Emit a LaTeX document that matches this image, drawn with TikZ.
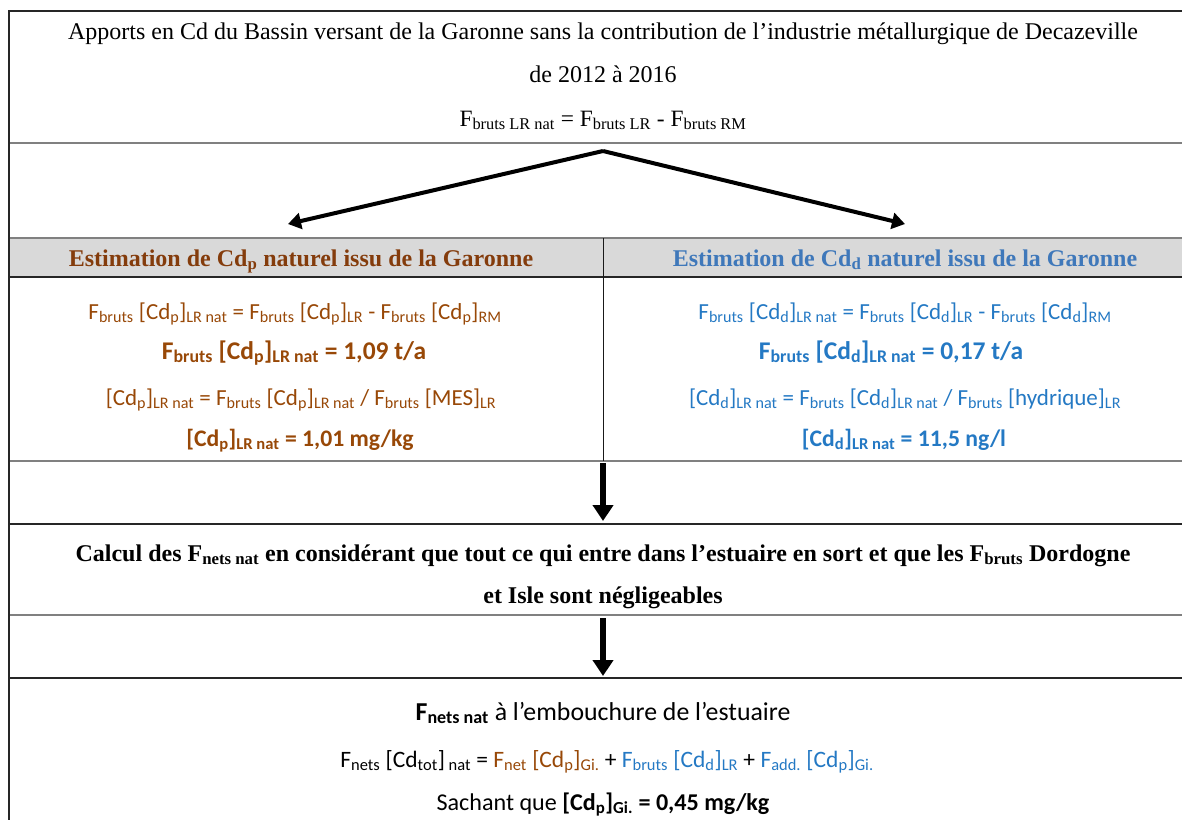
\documentclass[tikz,border=0pt]{standalone}
\usepackage{fontspec}
\setmainfont{Liberation Serif}
\newfontfamily\calib{Carlito}
\usetikzlibrary{arrows.meta}
\definecolor{hdrbrown}{HTML}{843C0C}
\definecolor{txtbrown}{HTML}{984807}
\definecolor{hdrblue}{HTML}{3F78BA}
\definecolor{txtblue}{HTML}{2479C4}
\definecolor{hdrgray}{HTML}{D9D9D9}
\definecolor{rulegray}{HTML}{808080}
\newcommand\sbb[1]{\textsubscript{#1}}
\tikzset{
  darkrule/.style={draw=black!85, line width=1.5pt},
  grayrule/.style={draw=rulegray, line width=1.5pt},
  serifline/.style={anchor=base, font=\fontsize{24}{28}\selectfont, inner sep=0pt},
  hdrline/.style={anchor=base, font=\fontsize{24}{28}\selectfont\bfseries, inner sep=0pt},
  calline/.style={anchor=base, font=\calib\fontsize{23}{27}\selectfont, inner sep=0pt},
  calbold/.style={anchor=base, font=\calib\fontsize{#1}{27}\selectfont\bfseries, inner sep=0pt},
  bigarrow/.style={line width=4pt, -{Triangle[length=13pt,width=16pt]}},
  downarrow/.style={line width=5.5pt, -{Triangle[length=16pt,width=20pt]}}
}
\begin{document}
\begin{tikzpicture}[x=1pt,y=-1pt]
\useasboundingbox (0,0) rectangle (1182,820);
\fill[white] (0,0) rectangle (1182,820);
% header band
\fill[hdrgray] (9,238) rectangle (1182,277);
% rules
\draw[darkrule] (8,11) -- (1182,11);
\draw[grayrule] (9,143) -- (1182,143);
\draw[grayrule] (9,238) -- (1182,238);
\draw[darkrule] (9,277) -- (1182,277);
\draw[grayrule] (9,461) -- (1182,461);
\draw[darkrule] (9,524) -- (1182,524);
\draw[grayrule] (9,615) -- (1182,615);
\draw[darkrule] (9,678) -- (1182,678);
\draw[draw=black!90, line width=1pt] (603,238) -- (603,461);
\draw[draw=black!85, line width=2.5pt] (9,10) -- (9,820);

% title
\node[serifline] (t1) at (603,39) {Apports en Cd du Bassin versant de la Garonne sans la contribution de l’industrie métallurgique de Decazeville};
\node[serifline] (t2) at (603,82) {de 2012 à 2016};
\node[serifline, font=\fontsize{23.4}{27}\selectfont] (t3) at (603,126) {F\sbb{bruts LR nat} = F\sbb{bruts LR} - F\sbb{bruts RM}};

% headers
\node[hdrline, text=hdrbrown] (hl) at (301,266) {Estimation de Cd\sbb{p} naturel issu de la Garonne};
\node[hdrline, text=hdrblue] (hr) at (905,266) {Estimation de Cd\sbb{d} naturel issu de la Garonne};

% left content
\begin{scope}[every node/.style={calline, text=txtbrown}]
\node (l1) at (295,319) {F\sbb{bruts} [Cd\sbb{p}]\sbb{LR nat} = F\sbb{bruts} [Cd\sbb{p}]\sbb{LR} - F\sbb{bruts} [Cd\sbb{p}]\sbb{RM}};
\node[calbold=25.5] (l2) at (294,359) {F\sbb{bruts} [Cd\sbb{p}]\sbb{LR nat} = 1,09 t/a};
\node (l3) at (301,405) {[Cd\sbb{p}]\sbb{LR nat} = F\sbb{bruts} [Cd\sbb{p}]\sbb{LR nat} / F\sbb{bruts} [MES]\sbb{LR}};
\node[calbold=23.7] (l4) at (300,446) {[Cd\sbb{p}]\sbb{LR nat} = 1,01 mg/kg};
\end{scope}

% right content
\begin{scope}[every node/.style={calline, text=txtblue}]
\node (r1) at (905,319) {F\sbb{bruts} [Cd\sbb{d}]\sbb{LR nat} = F\sbb{bruts} [Cd\sbb{d}]\sbb{LR} - F\sbb{bruts} [Cd\sbb{d}]\sbb{RM}};
\node[calbold=25.5] (r2) at (891,359) {F\sbb{bruts} [Cd\sbb{d}]\sbb{LR nat} = 0,17 t/a};
\node (r3) at (905,405) {[Cd\sbb{d}]\sbb{LR nat} = F\sbb{bruts} [Cd\sbb{d}]\sbb{LR nat} / F\sbb{bruts} [hydrique]\sbb{LR}};
\node[calbold=23.7] (r4) at (904,446) {[Cd\sbb{d}]\sbb{LR nat} = 11,5 ng/l};
\end{scope}

% calc
\node[hdrline] (c1) at (603,561) {Calcul des F\sbb{nets nat} en considérant que tout ce qui entre dans l’estuaire en sort et que les F\sbb{bruts} Dordogne};
\node[hdrline] (c2) at (603,603) {et Isle sont négligeables};

% final
\node[calline, font=\calib\fontsize{25.8}{30}\selectfont] (f1) at (603,720) {\textbf{F\sbb{nets nat}} à l’embouchure de l’estuaire};
\node[calline, font=\calib\fontsize{23.5}{27}\selectfont] (f2) at (607,767) {F\sbb{nets} [Cd\sbb{tot}]\sbb{ nat} = \textcolor{txtbrown}{F\sbb{net} [Cd\sbb{p}]\sbb{Gi.}} + \textcolor{txtblue}{F\sbb{bruts} [Cd\sbb{d}]\sbb{LR}} + \textcolor{txtblue}{F\sbb{add.} [Cd\sbb{p}]\sbb{Gi.}}};
\node[calline, font=\calib\fontsize{24.1}{28}\selectfont] (f3) at (603,810) {Sachant que \textbf{[Cd\sbb{p}]\sbb{Gi.} = 0,45 mg/kg}};

% arrows
\coordinate (split) at (603,151);
\coordinate (tl) at (288,224);
\coordinate (tr) at (905,224);
\draw[bigarrow] (split) -- (tl);
\draw[bigarrow] (split) -- (tr);
\coordinate (d1s) at (603,463);
\coordinate (d1e) at (603,521);
\coordinate (d2s) at (603,618);
\coordinate (d2e) at (603,676);
\draw[downarrow] (d1s) -- (d1e);
\draw[downarrow] (d2s) -- (d2e);
\end{tikzpicture}
\end{document}
